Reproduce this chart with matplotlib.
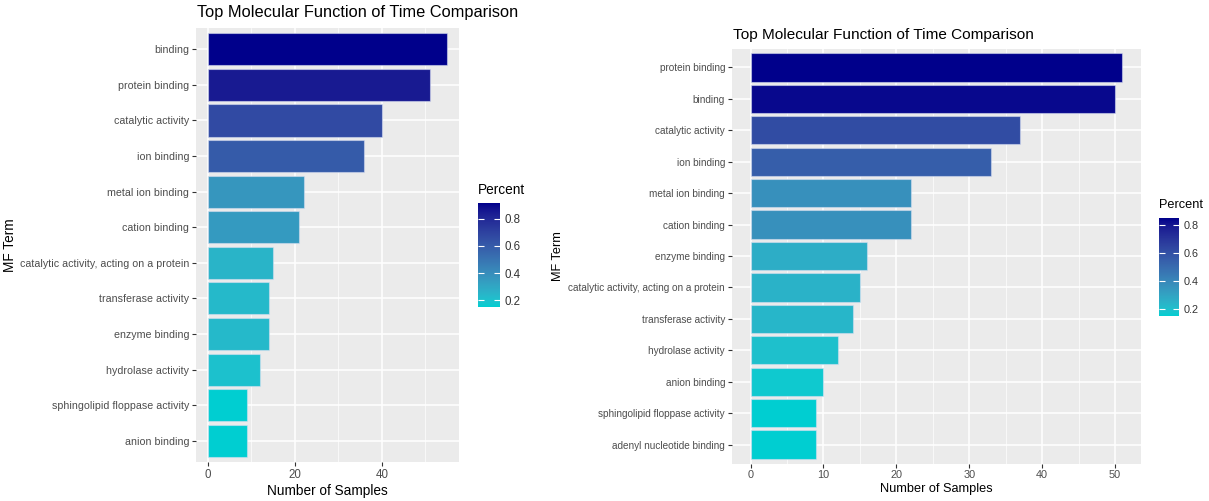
import matplotlib
matplotlib.use("Agg")
import matplotlib.pyplot as plt
from matplotlib.colors import ListedColormap, Normalize
import matplotlib.cm as cm
import numpy as np

plt.rcParams['font.family'] = ['Liberation Sans', 'DejaVu Sans']

# time point 1
terms_a = ["binding", "protein binding", "catalytic activity", "ion binding",
           "metal ion binding", "cation binding",
           "catalytic activity, acting on a protein", "transferase activity",
           "enzyme binding", "hydrolase activity",
           "sphingolipid floppase activity", "anion binding"]
counts_a = [55, 51, 40, 36, 22, 21, 15, 14, 14, 12, 9, 9]
pct_a = [0.917, 0.85, 0.667, 0.6, 0.367, 0.35, 0.25, 0.233, 0.233, 0.2, 0.15, 0.15]
xticks_a = [0, 20, 40]

# time point 2
terms_b = ["protein binding", "binding", "catalytic activity", "ion binding",
           "metal ion binding", "cation binding", "enzyme binding",
           "catalytic activity, acting on a protein", "transferase activity",
           "hydrolase activity", "anion binding",
           "sphingolipid floppase activity", "adenyl nucleotide binding"]
counts_b = [51, 50, 37, 33, 22, 22, 16, 15, 14, 12, 10, 9, 9]
pct_b = [0.85, 0.833, 0.617, 0.55, 0.367, 0.367, 0.267, 0.25, 0.233, 0.2, 0.167, 0.15, 0.15]
xticks_b = [0, 10, 20, 30, 40, 50]

W, H = 1209, 501
LOW, HIGH = "#00CED1", "#00008B"


# --- Lab interpolation like scale_fill_gradient ---
def srgb_to_lab(rgb):
    rgb = np.asarray(rgb, float)
    lin = np.where(rgb <= 0.04045, rgb / 12.92, ((rgb + 0.055) / 1.055) ** 2.4)
    M = np.array([[0.4124, 0.3576, 0.1805],
                  [0.2126, 0.7152, 0.0722],
                  [0.0193, 0.1192, 0.9505]])
    xyz = M @ lin / np.array([0.95047, 1.0, 1.08883])
    f = np.where(xyz > 0.008856, np.cbrt(xyz), 7.787 * xyz + 16 / 116)
    return np.array([116 * f[1] - 16, 500 * (f[0] - f[1]), 200 * (f[1] - f[2])])


def lab_to_srgb(lab):
    L, a, b = lab
    fy = (L + 16) / 116
    fx = fy + a / 500
    fz = fy - b / 200
    f = np.array([fx, fy, fz])
    xyz = np.where(f ** 3 > 0.008856, f ** 3, (f - 16 / 116) / 7.787)
    xyz = xyz * np.array([0.95047, 1.0, 1.08883])
    Minv = np.array([[3.2406, -1.5372, -0.4986],
                     [-0.9689, 1.8758, 0.0415],
                     [0.0557, -0.2040, 1.0570]])
    lin = Minv @ xyz
    rgb = np.where(lin <= 0.0031308, 12.92 * lin, 1.055 * np.clip(lin, 0, None) ** (1 / 2.4) - 0.055)
    return np.clip(rgb, 0, 1)


def hex_rgb(h):
    return np.array([int(h[i:i + 2], 16) / 255 for i in (1, 3, 5)])


lab_lo = srgb_to_lab(hex_rgb(LOW))
lab_hi = srgb_to_lab(hex_rgb(HIGH))
cmap = ListedColormap([lab_to_srgb(lab_lo + t * (lab_hi - lab_lo)) for t in np.linspace(0, 1, 256)])


def fx(x):
    return x / W


def fy(y):
    return 1 - y / H


def draw_panel(ax_box, cax_box, terms, counts, pct, xticks, title_xy, leg_title_xy, ylab_x, sc=1.0):
    ax = fig.add_axes([fx(ax_box[0]), fy(ax_box[1] + ax_box[3]), fx(ax_box[2]), ax_box[3] / H])
    norm = Normalize(min(pct), max(pct))
    ypos = np.arange(len(terms))
    ax.barh(ypos, counts, height=0.9, color=cmap(norm(pct)),
            edgecolor=(0.85, 0.88, 0.95, 0.55), linewidth=0.8, zorder=3)
    ax.set_facecolor("#EBEBEB")
    xmax = max(counts)
    ax.set_xlim(-0.05 * xmax, 1.05 * xmax)
    ax.set_ylim(len(terms) - 1 + 0.6, -0.6)
    ax.set_yticks(ypos)
    ax.set_yticklabels(terms)
    ax.set_xticks(xticks)
    step = xticks[1] - xticks[0]
    ax.set_xticks(np.arange(step / 2, 1.05 * xmax, step), minor=True)
    ax.grid(True, which="major", color="white", linewidth=1.1, zorder=0)
    ax.grid(True, which="minor", axis="x", color="white", linewidth=0.5, zorder=0)
    ax.set_axisbelow(True)
    for s in ax.spines.values():
        s.set_visible(False)
    ax.tick_params(axis="both", which="major", length=3, width=0.8, color="#333333",
                   labelcolor="#4D4D4D", pad=2)
    ax.tick_params(axis="y", labelsize=7.7 * sc)
    ax.tick_params(axis="x", labelsize=8.3 * sc)
    ax.tick_params(axis="x", which="minor", length=0)
    ax.set_xlabel("Number of Samples", fontsize=9.8 * sc, color="black", labelpad=2)
    fig.text(fx(ylab_x), fy(ax_box[1] + ax_box[3] / 2), "MF Term", rotation=90,
             fontsize=9.8 * sc, ha="center", va="center")
    fig.text(fx(title_xy[0]), fy(title_xy[1]), "Top Molecular Function of Time Comparison",
             fontsize=11.8 * sc, ha="left", va="center")

    cax = fig.add_axes([fx(cax_box[0]), fy(cax_box[1] + cax_box[3]), fx(cax_box[2]), cax_box[3] / H])
    cb = fig.colorbar(cm.ScalarMappable(norm=norm, cmap=cmap), cax=cax)
    cb.outline.set_visible(False)
    cb.set_ticks([0.2, 0.4, 0.6, 0.8])
    cax.tick_params(left=True, right=True, direction="in", color="white", length=4,
                    width=0.8, labelsize=8.3 * sc, labelcolor="#333333", pad=3)
    fig.text(fx(leg_title_xy[0]), fy(leg_title_xy[1]), "Percent", fontsize=9.8 * sc,
             ha="left", va="center")
    return ax


fig = plt.figure(figsize=(W / 100, H / 100), dpi=100)

draw_panel((196, 28, 263, 434), (478, 203, 22, 104), terms_a, counts_a, pct_a, xticks_a,
           (197, 12), (478, 190), 10)
draw_panel((732, 48.5, 409, 415), (1159, 218, 20, 98), terms_b, counts_b, pct_b, xticks_b,
           (733, 35), (1159, 205), 558, sc=0.94)

fig.savefig("out.png", dpi=100)
